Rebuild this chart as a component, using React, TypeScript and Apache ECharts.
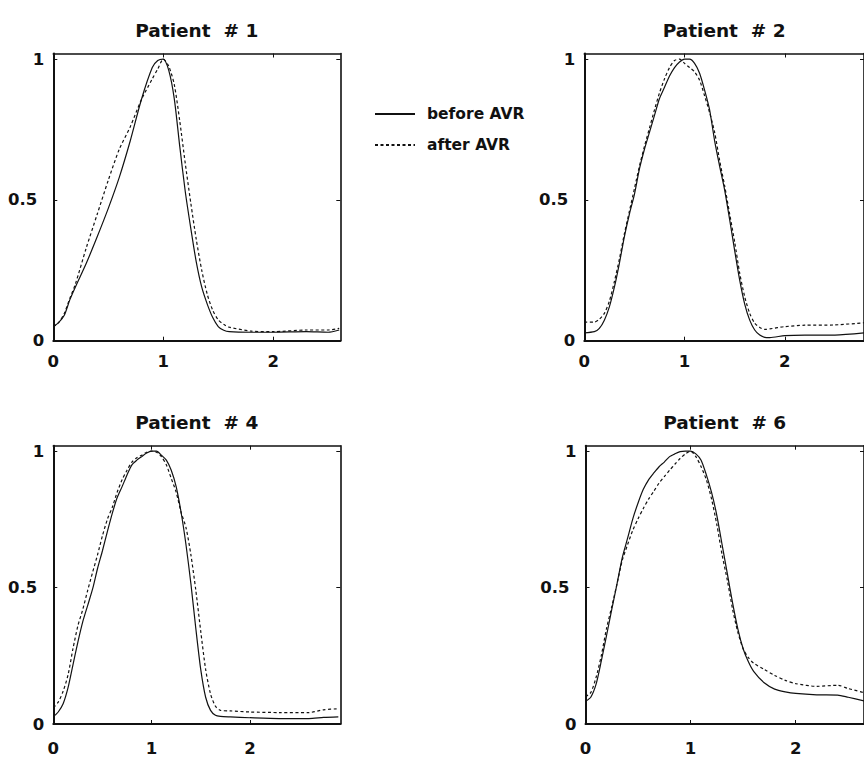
import React, { useEffect, useRef } from "react";
import * as echarts from "echarts";

// ---------- data ----------
const SERIES_NAMES = ["before AVR", "after AVR"];
const TITLES = ["Patient  # 1", "Patient  # 2", "Patient  # 4", "Patient  # 6"];
const X_TICKS = [0, 1, 2];
const Y_TICKS = [0, 0.5, 1];

const P1_X = [0, 0.05, 0.1, 0.15, 0.2, 0.3, 0.4, 0.5, 0.6, 0.7, 0.8, 0.9, 0.95, 1.0, 1.05, 1.1, 1.15, 1.2, 1.25, 1.3, 1.35, 1.4, 1.45, 1.5, 1.55, 1.6, 1.8, 2.0, 2.3, 2.5, 2.6];
const P1_BEFORE = [0.05, 0.065, 0.09, 0.145, 0.19, 0.275, 0.37, 0.47, 0.58, 0.71, 0.855, 0.97, 0.995, 1.0, 0.96, 0.86, 0.69, 0.53, 0.4, 0.28, 0.19, 0.13, 0.082, 0.05, 0.037, 0.032, 0.03, 0.03, 0.032, 0.03, 0.038];
const P1_AFTER = [0.05, 0.065, 0.097, 0.15, 0.2, 0.33, 0.45, 0.57, 0.68, 0.76, 0.855, 0.93, 0.965, 1.0, 0.975, 0.91, 0.78, 0.63, 0.49, 0.36, 0.25, 0.165, 0.108, 0.074, 0.058, 0.048, 0.034, 0.032, 0.038, 0.038, 0.044];

const P2_X = [0, 0.1, 0.15, 0.2, 0.25, 0.3, 0.35, 0.4, 0.45, 0.5, 0.55, 0.6, 0.65, 0.7, 0.75, 0.8, 0.85, 0.9, 0.95, 1.0, 1.05, 1.1, 1.15, 1.2, 1.25, 1.3, 1.35, 1.4, 1.45, 1.5, 1.55, 1.6, 1.65, 1.7, 1.75, 1.8, 1.85, 2.0, 2.2, 2.5, 2.8];
const P2_BEFORE = [0.028, 0.032, 0.044, 0.073, 0.12, 0.19, 0.275, 0.37, 0.45, 0.52, 0.61, 0.68, 0.74, 0.8, 0.86, 0.9, 0.94, 0.97, 0.99, 1.0, 1.0, 0.985, 0.95, 0.89, 0.82, 0.71, 0.62, 0.535, 0.43, 0.32, 0.215, 0.13, 0.073, 0.038, 0.02, 0.012, 0.011, 0.018, 0.02, 0.02, 0.028];
const P2_AFTER = [0.066, 0.066, 0.076, 0.097, 0.14, 0.21, 0.29, 0.38, 0.46, 0.54, 0.62, 0.69, 0.755, 0.82, 0.88, 0.93, 0.97, 0.995, 1.0, 0.985, 0.97, 0.955, 0.925, 0.87, 0.81, 0.74, 0.64, 0.55, 0.45, 0.35, 0.24, 0.156, 0.097, 0.062, 0.047, 0.04, 0.042, 0.05, 0.055, 0.056, 0.064];

const P4_X = [0, 0.05, 0.1, 0.15, 0.2, 0.25, 0.3, 0.35, 0.4, 0.45, 0.5, 0.55, 0.6, 0.65, 0.7, 0.75, 0.8, 0.85, 0.9, 0.95, 1.0, 1.05, 1.1, 1.15, 1.2, 1.25, 1.3, 1.35, 1.4, 1.45, 1.5, 1.55, 1.6, 1.65, 1.7, 1.8, 2.0, 2.3, 2.6, 2.75, 2.9];
const P4_BEFORE = [0.026, 0.044, 0.074, 0.133, 0.217, 0.3, 0.375, 0.435, 0.495, 0.57, 0.635, 0.705, 0.772, 0.83, 0.87, 0.913, 0.95, 0.967, 0.98, 0.993, 1.0, 1.0, 0.985, 0.967, 0.93, 0.87, 0.776, 0.657, 0.514, 0.35, 0.2, 0.098, 0.05, 0.032, 0.028, 0.026, 0.023, 0.02, 0.02, 0.024, 0.026];
const P4_AFTER = [0.06, 0.08, 0.12, 0.18, 0.276, 0.36, 0.42, 0.49, 0.556, 0.62, 0.69, 0.75, 0.794, 0.85, 0.895, 0.93, 0.96, 0.976, 0.985, 0.996, 1.0, 0.996, 0.98, 0.95, 0.9, 0.85, 0.776, 0.72, 0.62, 0.49, 0.34, 0.2, 0.11, 0.065, 0.05, 0.048, 0.044, 0.042, 0.042, 0.052, 0.056];

const P6_X = [0, 0.05, 0.1, 0.15, 0.2, 0.25, 0.3, 0.35, 0.4, 0.45, 0.5, 0.55, 0.6, 0.65, 0.7, 0.75, 0.8, 0.85, 0.9, 0.95, 1.0, 1.05, 1.1, 1.15, 1.2, 1.25, 1.3, 1.35, 1.4, 1.45, 1.5, 1.55, 1.6, 1.7, 1.8, 1.9, 2.0, 2.2, 2.4, 2.5, 2.65];
const P6_BEFORE = [0.083, 0.098, 0.145, 0.23, 0.324, 0.42, 0.514, 0.61, 0.68, 0.752, 0.81, 0.86, 0.895, 0.92, 0.943, 0.96, 0.98, 0.99, 0.998, 1.0, 1.0, 0.99, 0.967, 0.913, 0.848, 0.764, 0.657, 0.55, 0.443, 0.348, 0.276, 0.228, 0.193, 0.151, 0.128, 0.118, 0.112, 0.107, 0.106, 0.098, 0.085];
const P6_AFTER = [0.1, 0.115, 0.17, 0.25, 0.35, 0.43, 0.514, 0.6, 0.657, 0.71, 0.752, 0.79, 0.824, 0.853, 0.883, 0.907, 0.93, 0.952, 0.973, 0.99, 1.0, 0.98, 0.943, 0.895, 0.824, 0.73, 0.62, 0.526, 0.42, 0.336, 0.276, 0.243, 0.223, 0.2, 0.178, 0.16, 0.148, 0.138, 0.142, 0.13, 0.115];

const X_MAX = [2.61, 2.79, 2.92, 2.65];
const Y_MAX = 1.02;

// ---------- layout / style ----------
const PANELS = [
  { left: 53.3, top: 53.5, width: 287, height: 287.2, x: P1_X, before: P1_BEFORE, after: P1_AFTER, labelMargin: 12 },
  { left: 584.3, top: 53.5, width: 288, height: 287.2, x: P2_X, before: P2_BEFORE, after: P2_AFTER, labelMargin: 12 },
  { left: 53.3, top: 445.7, width: 287, height: 285, x: P4_X, before: P4_BEFORE, after: P4_AFTER, labelMargin: 16 },
  { left: 585.5, top: 445.7, width: 288, height: 285, x: P6_X, before: P6_BEFORE, after: P6_AFTER, labelMargin: 16 },
];

const INK = "#111";
const FONT = "DejaVu Sans";

export default function App() {
  const ref = useRef<HTMLDivElement>(null);

  useEffect(() => {
    if (!ref.current) return;
    const chart = echarts.init(ref.current, undefined, { renderer: "svg" });

    const mainLine = { show: true, onZero: false, lineStyle: { color: INK, width: 2 } };
    const sideLine = { show: true, onZero: false, lineStyle: { color: INK, width: 1.6 } };
    const grids: any[] = [];
    const xAxes: any[] = [];
    const yAxes: any[] = [];
    const series: any[] = [];

    PANELS.forEach((p, i) => {
      grids.push({ left: p.left, top: p.top, width: p.width, height: p.height, containLabel: false });
      xAxes.push({
        type: "value", gridIndex: i, position: "bottom", min: 0, max: X_MAX[i],
        axisLine: mainLine, splitLine: { show: false },
        axisTick: { show: true, inside: true, length: 4, customValues: X_TICKS, lineStyle: { color: INK, width: 1 } },
        axisLabel: {
          show: true, customValues: X_TICKS, margin: p.labelMargin, color: INK,
          fontFamily: FONT, fontWeight: "bold", fontSize: 16.5,
          formatter: (v: number) => String(v),
        },
      });
      xAxes.push({
        type: "value", gridIndex: i, position: "top", min: 0, max: X_MAX[i],
        name: TITLES[i], nameLocation: "middle", nameGap: 14,
        nameTextStyle: { color: INK, fontFamily: FONT, fontWeight: "bold", fontSize: 18.5 },
        axisLine: sideLine, splitLine: { show: false },
        axisTick: { show: true, inside: true, length: 4, customValues: X_TICKS, lineStyle: { color: INK, width: 1 } },
        axisLabel: { show: false },
      });
      yAxes.push({
        type: "value", gridIndex: i, position: "left", min: 0, max: Y_MAX,
        axisLine: mainLine, splitLine: { show: false },
        axisTick: { show: true, inside: true, length: 4, customValues: Y_TICKS, lineStyle: { color: INK, width: 1 } },
        axisLabel: {
          show: true, customValues: Y_TICKS, margin: 9, color: INK,
          fontFamily: FONT, fontWeight: "bold", fontSize: 16.5,
          formatter: (v: number) => (v === 0.5 ? "{h|0.5}" : String(v)),
          rich: { h: { fontFamily: FONT, fontWeight: "bold", fontSize: 16.5, color: INK, padding: [0, 7, 0, 0] } },
        },
      });
      yAxes.push({
        type: "value", gridIndex: i, position: "right", min: 0, max: Y_MAX,
        axisLine: sideLine, splitLine: { show: false },
        axisTick: { show: true, inside: true, length: 4, customValues: Y_TICKS, lineStyle: { color: INK, width: 1 } },
        axisLabel: { show: false },
      });
      const mk = (name: string, ys: number[], type: any) => ({
        type: "line", name, xAxisIndex: 2 * i, yAxisIndex: 2 * i,
        data: p.x.map((x, k) => [x, ys[k]]),
        symbol: "none", showSymbol: false, smooth: 0.25, clip: true,
        color: INK,
        lineStyle: { color: INK, width: 1.2, type },
        emphasis: { disabled: true },
      });
      series.push(mk(SERIES_NAMES[0], p.before, "solid"));
      series.push(mk(SERIES_NAMES[1], p.after, [3, 2.5]));
    });

    chart.setOption({
      animation: false,
      backgroundColor: "#fff",
      grid: grids,
      xAxis: xAxes,
      yAxis: yAxes,
      series,
      legend: {
        data: SERIES_NAMES,
        orient: "vertical",
        left: 374, top: 106, padding: 0,
        itemWidth: 40, itemHeight: 14, itemGap: 15,
        selectedMode: false,
        itemStyle: { opacity: 0, borderWidth: 0 },
        textStyle: { color: INK, fontFamily: FONT, fontWeight: "bold", fontSize: 15.5, lineHeight: 14, padding: [0, 0, 0, 7] },
      },
      tooltip: { show: false },
    });

    return () => chart.dispose();
  }, []);

  return <div ref={ref} style={{ position: "absolute", left: 0, top: 0, width: 864, height: 757 }} />;
}
